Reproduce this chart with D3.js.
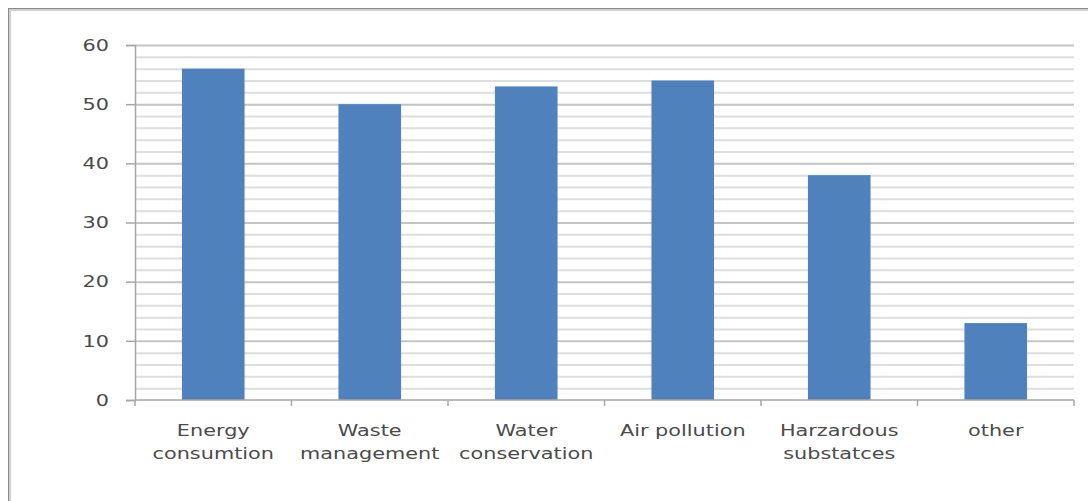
<!DOCTYPE html>
<html>
<head>
<meta charset="utf-8">
<script src="https://cdn.jsdelivr.net/npm/d3@7"></script>
<style>
  html, body { margin: 0; padding: 0; background: #fff; }
  svg { display: block; }
  .lbl { font-family: "DejaVu Sans", sans-serif; fill: #4a4a4a; font-size: 16px; }
</style>
</head>
<body>
<svg id="chart" width="1088" height="501"></svg>
<script>
// Environmental issues by category
const categories = [
  ["Energy", "consumtion"],
  ["Waste", "management"],
  ["Water", "conservation"],
  ["Air pollution"],
  ["Harzardous", "substatces"],
  ["other"]
];
const values = [56, 50, 53, 54, 38, 13];
const yTicks = [0, 10, 20, 30, 40, 50, 60];
const yMinor = d3.range(0, 61, 2);

const svg = d3.select("#chart");
const W = 1088, H = 501;
const plot = { left: 135, right: 1074, top: 45, bottom: 400 };
const textStretch = 1.3; // wide lettering

// Outer chart frame
svg.append("rect")
  .attr("x", 9.5).attr("y", 9.5)
  .attr("width", W + 20).attr("height", H + 20)
  .attr("fill", "none")
  .attr("stroke", "#cfcfcf").attr("stroke-width", 3);
svg.append("rect")
  .attr("x", 8.5).attr("y", 8.5)
  .attr("width", W + 20).attr("height", H + 20)
  .attr("fill", "none")
  .attr("stroke", "#8a8a8a").attr("stroke-width", 1);

const x = d3.scaleBand()
  .domain(d3.range(categories.length))
  .range([plot.left, plot.right])
  .paddingInner(0.6)
  .paddingOuter(0.3);

const y = d3.scaleLinear().domain([0, 60]).range([plot.bottom, plot.top]);

// Gridlines: minor every 2, major every 10
svg.append("g").selectAll("line")
  .data(yMinor.filter(v => v > 0))
  .join("line")
  .attr("x1", plot.left).attr("x2", plot.right)
  .attr("y1", d => y(d) + 0.5).attr("y2", d => y(d) + 0.5)
  .attr("stroke", d => d % 10 === 0 ? "#c4c4c4" : "#dedede")
  .attr("stroke-width", 2);

// Bars
svg.append("g").selectAll("rect")
  .data(values)
  .join("rect")
  .attr("x", (d, i) => x(i))
  .attr("y", d => y(d))
  .attr("width", x.bandwidth())
  .attr("height", d => y(0) - y(d))
  .attr("fill", "#4f81bd");

// Y axis line and ticks
const yAxis = svg.append("g")
  .attr("transform", `translate(${plot.left},0)`)
  .call(d3.axisLeft(y).tickValues(yTicks).tickSize(9).tickFormat(""));
yAxis.select(".domain").attr("stroke", "#a6a6a6").attr("stroke-width", 1.5);
yAxis.selectAll(".tick line").attr("stroke", "#a6a6a6").attr("stroke-width", 1.5);

// Y tick labels (stretched horizontally)
svg.append("g").selectAll("text")
  .data(yTicks)
  .join("text")
  .attr("class", "lbl")
  .attr("text-anchor", "end")
  .attr("dy", "0.36em")
  .attr("transform", d => `translate(109,${y(d)}) scale(${textStretch},1)`)
  .text(d => d);

// X axis (category boundaries as ticks)
const step = x.step();
const bounds = d3.range(categories.length + 1).map(i => plot.left + i * step);
svg.append("line")
  .attr("x1", plot.left).attr("x2", plot.right)
  .attr("y1", plot.bottom).attr("y2", plot.bottom)
  .attr("stroke", "#a6a6a6").attr("stroke-width", 1.5);
svg.append("g").selectAll("line")
  .data(bounds)
  .join("line")
  .attr("x1", d => d).attr("x2", d => d)
  .attr("y1", plot.bottom).attr("y2", plot.bottom + 6)
  .attr("stroke", "#a6a6a6").attr("stroke-width", 1.5);

// Category labels
const lab = svg.append("g").selectAll("text")
  .data(categories)
  .join("text")
  .attr("class", "lbl")
  .attr("text-anchor", "middle")
  .attr("transform", (d, i) => `translate(${x(i) + x.bandwidth() / 2},0) scale(${textStretch},1)`);
lab.selectAll("tspan")
  .data(d => d)
  .join("tspan")
  .attr("x", 0)
  .attr("y", (d, j) => 436 + j * 23)
  .text(d => d);
</script>
</body>
</html>
